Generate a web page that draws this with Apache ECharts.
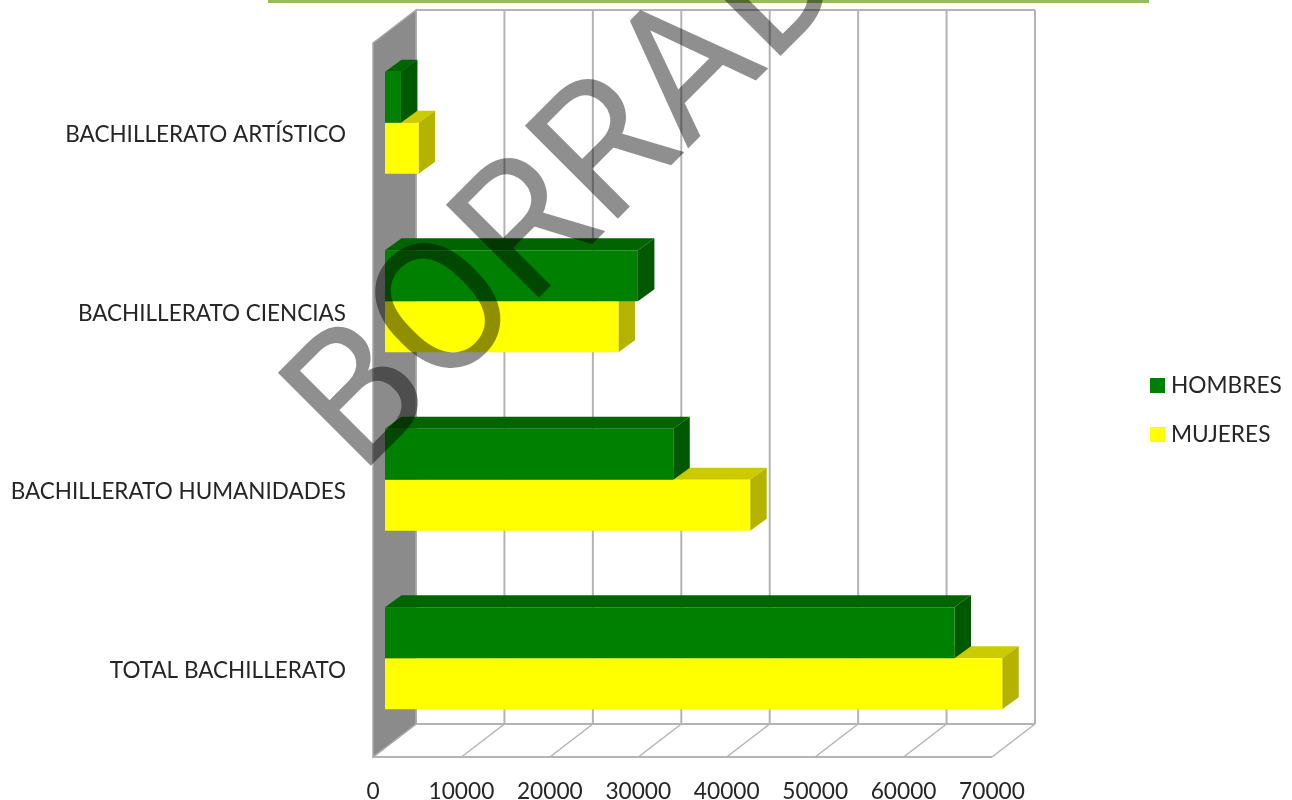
<!DOCTYPE html>
<html>
<head>
<meta charset="utf-8">
<style>html,body{margin:0;padding:0;background:#fff}#c{width:1292px;height:800px}</style>
<script src="https://cdn.jsdelivr.net/npm/echarts@6/dist/echarts.min.js"></script>
</head>
<body>
<div id="c"></div>
<script>
const categories = ['BACHILLERATO ARTÍSTICO', 'BACHILLERATO CIENCIAS', 'BACHILLERATO HUMANIDADES', 'TOTAL BACHILLERATO'];
const hombres = [1800, 28600, 32600, 64400];
const mujeres = [3800, 26400, 41300, 69800];
const ticks = [0, 10000, 20000, 30000, 40000, 50000, 60000, 70000];

const WALL_DX = 43, WALL_DY = -33;   // depth of the chart box
const BAR_DX = 16.5, BAR_DY = -12;   // depth of each bar
const INSET_X = 12, INSET_Y = -9.5;  // bars sit part-way into the box
const BAR_FRACTION = 0.2857;
const FRAME = '#b4b4b8';

function barRenderer(side, front, top, dark) {
  return function (params, api) {
    const v = api.value(0), cat = api.value(1);
    const c0 = api.coord([0, cat]), c1 = api.coord([v, cat]);
    const h = api.size([0, 1])[1] * BAR_FRACTION;
    const x0 = c0[0] + INSET_X, x1 = c1[0] + INSET_X;
    const yMid = c0[1] + INSET_Y;
    const yT = side === 'up' ? yMid - h : yMid;
    const yB = yT + h;
    return {
      type: 'group',
      children: [
        { type: 'polygon', shape: { points: [[x0, yT], [x0 + BAR_DX, yT + BAR_DY], [x1 + BAR_DX, yT + BAR_DY], [x1, yT]] }, style: { fill: top } },
        { type: 'polygon', shape: { points: [[x1, yT], [x1 + BAR_DX, yT + BAR_DY], [x1 + BAR_DX, yB + BAR_DY], [x1, yB]] }, style: { fill: dark } },
        { type: 'rect', shape: { x: x0, y: yT, width: x1 - x0, height: h }, style: { fill: front } }
      ]
    };
  };
}

function frameRenderer(params, api) {
  const v = api.value(0);
  const cs = params.coordSys;
  const top = cs.y, bottom = cs.y + cs.height;
  const x = api.coord([v, 0])[0];
  const line = (x1, y1, x2, y2, w) => ({ type: 'line', shape: { x1, y1, x2, y2 }, style: { stroke: FRAME, lineWidth: w || 2 } });
  const children = [
    line(x + WALL_DX, top + WALL_DY, x + WALL_DX, bottom + WALL_DY),
    line(x, bottom, x + WALL_DX, bottom + WALL_DY, 1.5)
  ];
  if (params.dataIndex === 0) {
    const left = cs.x, right = cs.x + cs.width;
    children.push(
      line(left + WALL_DX, top + WALL_DY, right + WALL_DX, top + WALL_DY),
      line(left + WALL_DX, bottom + WALL_DY, right + WALL_DX, bottom + WALL_DY),
      line(left, bottom, right, bottom),
      { type: 'polygon', shape: { points: [[left, top], [left + WALL_DX, top + WALL_DY], [left + WALL_DX, bottom + WALL_DY], [left, bottom]] }, style: { fill: '#8b8b8c', stroke: '#a9a9ad', lineWidth: 1.5 } }
    );
  }
  return { type: 'group', children };
}

const chart = echarts.init(document.getElementById('c'), null, { renderer: 'canvas' });
chart.setOption({
  backgroundColor: '#ffffff',
  animation: false,
  grid: { left: 373, top: 43, width: 619, height: 714, containLabel: false, outerBoundsMode: 'none' },
  xAxis: {
    type: 'value', min: 0, max: 70000, interval: 10000, position: 'bottom',
    axisLine: { show: false }, axisTick: { show: false }, splitLine: { show: false },
    axisLabel: { margin: 23, color: '#262626', fontFamily: 'Lato', fontSize: 22.7, formatter: v => String(v) }
  },
  yAxis: {
    type: 'category', inverse: true, data: categories,
    axisLine: { show: false }, axisTick: { show: false }, splitLine: { show: false },
    axisLabel: {
      margin: 27, formatter: v => '{a|' + v + '}',
      rich: { a: { color: '#262626', fontFamily: 'Lato', fontSize: 22.5, padding: [5, 0, 0, 0] } }
    }
  },
  legend: {
    orient: 'vertical', left: 1150, top: 374, padding: 0, itemWidth: 15, itemHeight: 15, itemGap: 26,
    icon: 'rect', data: ['HOMBRES', 'MUJERES'],
    textStyle: { color: '#262626', fontFamily: 'Lato', fontSize: 22.7, padding: [0, 0, 0, 1] }
  },
  series: [
    { name: 'frame', type: 'custom', z: 1, silent: true, renderItem: frameRenderer,
      data: ticks.map(t => [t, 0]), encode: { x: 0, y: 1 } },
    { name: 'MUJERES', type: 'custom', z: 2, itemStyle: { color: '#ffff00' },
      renderItem: barRenderer('down', '#ffff00', '#cbcb00', '#b3b300'),
      data: mujeres.map((v, i) => [v, i]), encode: { x: 0, y: 1 } },
    { name: 'HOMBRES', type: 'custom', z: 3, itemStyle: { color: '#008000' },
      renderItem: barRenderer('up', '#008000', '#006400', '#005800'),
      data: hombres.map((v, i) => [v, i]), encode: { x: 0, y: 1 } }
  ],
  graphic: [
    { type: 'rect', z: 10, shape: { x: 268, y: 0, width: 881, height: 3 }, style: { fill: '#9bbb59' } },
    { type: 'text', z: 20, silent: true, x: 658, y: 113, rotation: Math.PI / 4, scaleX: 0.98,
      style: { text: 'BORRADOR', fontFamily: 'Roboto', fontWeight: 400, fontSize: 185, fill: 'rgba(0,0,0,0.44)',
        textAlign: 'center', textVerticalAlign: 'middle', shadowBlur: 5, shadowColor: 'rgba(0,0,0,0.45)' } }
  ]
});
</script>
</body>
</html>
